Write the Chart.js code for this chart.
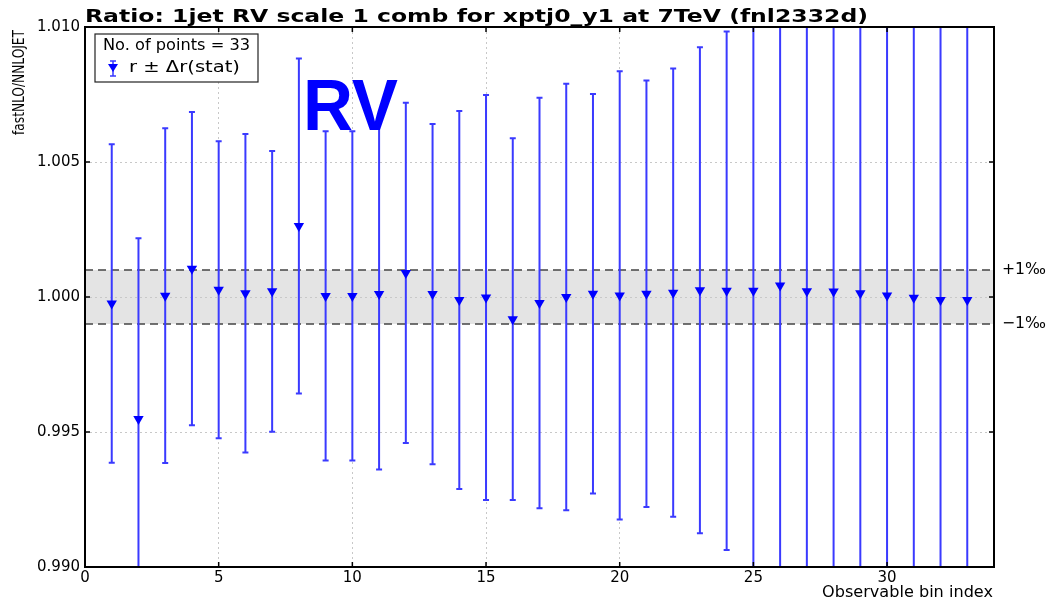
<!DOCTYPE html>
<html>
<head>
<meta charset="utf-8">
<script src="https://cdn.jsdelivr.net/npm/chart.js@4"></script>
<style>
  html, body { margin: 0; padding: 0; background: #fff; }
  #wrap { width: 1049px; height: 602px; position: relative; }
</style>
</head>
<body>
<div id="wrap"><canvas id="ratioChart" width="1049" height="602"></canvas></div>
<script>
// bin index, ratio r and its statistical uncertainty
const bins = [1, 2, 3, 4, 5, 6, 7, 8, 9, 10, 11, 12, 13, 14, 15, 16, 17,
              18, 19, 20, 21, 22, 23, 24, 25, 26, 27, 28, 29, 30, 31, 32, 33];
const ratio = [0.99976, 0.99548, 1.00005, 1.00105, 1.00027, 1.00014, 1.00021, 1.00263,
               1.00004, 1.00004, 1.00011, 1.00089, 1.00011, 0.99989, 0.99998, 0.99918,
               0.99978, 1.00000, 1.00012, 1.00006, 1.00012, 1.00016, 1.00025, 1.00023,
               1.00023, 1.00043, 1.00021, 1.00020, 1.00014, 1.00006, 0.99997, 0.99989, 0.99989];
const statErr = [0.0059, 0.0067, 0.0062, 0.0058, 0.0055, 0.0059, 0.0052, 0.0062,
                 0.0061, 0.0061, 0.0065, 0.0063, 0.0063, 0.0070, 0.0075, 0.0067,
                 0.0076, 0.0079, 0.0074, 0.0083, 0.0079, 0.0083, 0.0090, 0.0096,
                 0.0104, 0.0112, 0.0118, 0.0125, 0.0131, 0.0140, 0.0148, 0.0155, 0.0163];
const xTicks = [0, 5, 10, 15, 20, 25, 30];
const yTicks = [0.990, 0.995, 1.000, 1.005, 1.010];
const bandLo = 0.999, bandHi = 1.001;

const blue = "#0000ff";
const barBlue = "#3a3aff";

// draw text squeezed/stretched horizontally to a given width
function fillWide(ctx, text, x, y, width) {
    const w = ctx.measureText(text).width;
    ctx.save();
    ctx.translate(x, y);
    ctx.scale(width / w, 1);
    ctx.fillText(text, 0, 0);
    ctx.restore();
}

const extras = {
    id: "extras",
    beforeDatasetsDraw(chart) {
        const { ctx, chartArea: a, scales: { x, y } } = chart;
        ctx.save();
        // grey +-1 permille band
        const yHi = y.getPixelForValue(bandHi), yLo = y.getPixelForValue(bandLo);
        ctx.fillStyle = "#e4e4e4";
        ctx.fillRect(a.left, yHi, a.right - a.left, yLo - yHi);
        // redraw the 1.000 grid line over the band
        ctx.strokeStyle = "#c8c8c8";
        ctx.lineWidth = 1;
        ctx.setLineDash([2, 3]);
        const y1 = Math.round(y.getPixelForValue(1.0)) + 0.5;
        ctx.beginPath(); ctx.moveTo(a.left, y1); ctx.lineTo(a.right, y1); ctx.stroke();
        ctx.strokeStyle = "#444";
        ctx.lineWidth = 1.3;
        ctx.setLineDash([8, 5]);
        [yHi, yLo].forEach(py => {
            ctx.beginPath(); ctx.moveTo(a.left, py); ctx.lineTo(a.right, py); ctx.stroke();
        });
        ctx.setLineDash([]);
        // error bars
        ctx.beginPath();
        ctx.rect(a.left, a.top, a.right - a.left, a.bottom - a.top);
        ctx.clip();
        ctx.strokeStyle = barBlue;
        ctx.lineWidth = 2;
        bins.forEach((b, i) => {
            const px = x.getPixelForValue(b);
            const top = y.getPixelForValue(ratio[i] + statErr[i]);
            const bot = y.getPixelForValue(ratio[i] - statErr[i]);
            ctx.beginPath();
            ctx.moveTo(px, top); ctx.lineTo(px, bot);
            ctx.moveTo(px - 3, top); ctx.lineTo(px + 3, top);
            ctx.moveTo(px - 3, bot); ctx.lineTo(px + 3, bot);
            ctx.stroke();
        });
        ctx.restore();
    },
    afterDraw(chart) {
        const { ctx, chartArea: a, scales: { x, y } } = chart;
        ctx.save();
        // frame and inward ticks
        ctx.strokeStyle = "#000";
        ctx.lineWidth = 2;
        ctx.strokeRect(a.left, a.top, a.right - a.left, a.bottom - a.top);
        ctx.lineWidth = 1.5;
        ctx.beginPath();
        xTicks.forEach(t => {
            const px = x.getPixelForValue(t);
            ctx.moveTo(px, a.bottom); ctx.lineTo(px, a.bottom - 5);
            ctx.moveTo(px, a.top); ctx.lineTo(px, a.top + 5);
        });
        yTicks.forEach(t => {
            const py = y.getPixelForValue(t);
            ctx.moveTo(a.left, py); ctx.lineTo(a.left + 5, py);
            ctx.moveTo(a.right, py); ctx.lineTo(a.right - 5, py);
        });
        ctx.stroke();

        // title
        ctx.fillStyle = "#000";
        ctx.font = "bold 18px 'DejaVu Sans'";
        ctx.textBaseline = "alphabetic";
        ctx.textAlign = "left";
        fillWide(ctx, "Ratio: 1jet RV scale 1 comb for xptj0_y1 at 7TeV (fnl2332d)", 85, 22, 783);

        // y axis label
        ctx.save();
        ctx.translate(24, 135);
        ctx.rotate(-Math.PI / 2);
        ctx.font = "15px 'DejaVu Sans Condensed', 'DejaVu Sans'";
        ctx.textAlign = "left";
        fillWide(ctx, "fastNLO/NNLOJET", 0, 0, 105);
        ctx.restore();

        // x axis label
        ctx.font = "15px 'DejaVu Sans'";
        ctx.textAlign = "left";
        fillWide(ctx, "Observable bin index", 822, 597, 171);

        // band labels
        ctx.textBaseline = "middle";
        ctx.font = "16px 'DejaVu Sans'";
        fillWide(ctx, "+1\u2030", a.right + 8, y.getPixelForValue(bandHi), 44);
        fillWide(ctx, "\u22121\u2030", a.right + 8, y.getPixelForValue(bandLo), 44);

        // big RV tag
        ctx.fillStyle = blue;
        ctx.font = "bold 72px 'Liberation Sans'";
        ctx.textBaseline = "alphabetic";
        fillWide(ctx, "RV", 303, 130, 95);

        // legend box
        ctx.fillStyle = "#fff";
        ctx.fillRect(95, 34, 163, 48);
        ctx.strokeStyle = "#222";
        ctx.lineWidth = 1.2;
        ctx.strokeRect(95, 34, 163, 48);
        ctx.fillStyle = "#000";
        ctx.font = "15px 'DejaVu Sans'";
        ctx.textBaseline = "middle";
        fillWide(ctx, "No. of points = " + bins.length, 103, 46, 147);
        fillWide(ctx, "r \u00b1 \u0394r(stat)", 129, 68, 111);
        ctx.strokeStyle = barBlue;
        ctx.lineWidth = 1.5;
        ctx.beginPath();
        ctx.moveTo(113, 61); ctx.lineTo(113, 76);
        ctx.moveTo(110, 61); ctx.lineTo(116, 61);
        ctx.moveTo(110, 76); ctx.lineTo(116, 76);
        ctx.stroke();
        ctx.fillStyle = blue;
        ctx.beginPath();
        ctx.moveTo(108, 64); ctx.lineTo(118, 64); ctx.lineTo(113, 72);
        ctx.closePath();
        ctx.fill();
        ctx.restore();
    }
};

new Chart(document.getElementById("ratioChart").getContext("2d"), {
    type: "scatter",
    data: {
        datasets: [{
            label: "r \u00b1 \u0394r(stat)",
            data: bins.map((b, i) => ({ x: b, y: ratio[i] })),
            pointStyle: "triangle",
            rotation: 180,
            radius: 6,
            backgroundColor: blue,
            borderColor: blue,
            borderWidth: 0
        }]
    },
    options: {
        responsive: false,
        animation: false,
        layout: { padding: { top: 27, right: 55, left: 0, bottom: 0 } },
        plugins: {
            legend: { display: false },
            title: { display: false },
            tooltip: { enabled: false }
        },
        scales: {
            x: {
                min: 0, max: 34,
                afterFit: s => { s.height = 35; },
                afterBuildTicks: s => { s.ticks = xTicks.map(v => ({ value: v })); },
                ticks: {
                    font: { family: "'DejaVu Sans'", size: 15 },
                    color: "#000", padding: 2, maxRotation: 0
                },
                grid: { color: "#c8c8c8", drawTicks: false },
                border: { display: false, dash: [2, 3] }
            },
            y: {
                min: 0.990, max: 1.010,
                afterFit: s => { s.width = 85; },
                afterBuildTicks: s => { s.ticks = yTicks.map(v => ({ value: v })); },
                ticks: {
                    font: { family: "'DejaVu Sans'", size: 15 },
                    color: "#000", padding: 5,
                    callback: v => v.toFixed(3)
                },
                grid: { color: "#c8c8c8", drawTicks: false },
                border: { display: false, dash: [2, 3] }
            }
        }
    },
    plugins: [extras]
});
</script>
</body>
</html>
